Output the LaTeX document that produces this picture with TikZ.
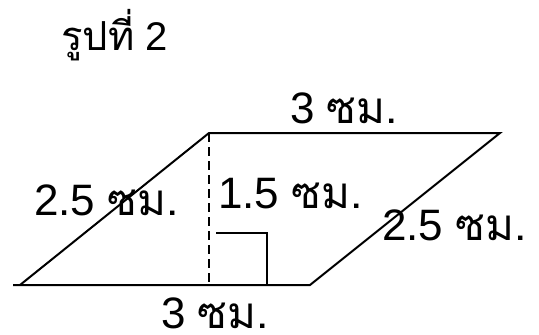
\documentclass[tikz,border=0pt]{standalone}
\usepackage{fontspec}
\setmainfont{Liberation Sans}
\newfontfamily\thaifont[Script=Thai]{Loma}
\begin{document}
\begin{tikzpicture}[x=1pt,y=-1pt,
  edge/.style={line width=2pt, line cap=butt},
  lbl/.style={anchor=base west, inner sep=0pt, font=\fontsize{44}{48}\selectfont},
  ttl/.style={anchor=base west, inner sep=0pt, font=\fontsize{40}{44}\selectfont}]
\useasboundingbox (0,0) rectangle (539,335);
\coordinate (A) at (20,285);
\coordinate (A0) at (13,285);
\coordinate (B) at (310,285);
\coordinate (C) at (500,133);
\coordinate (D) at (209,133);
\coordinate (E) at (209,285);
\coordinate (R1) at (216,233);
\coordinate (R2) at (267,233);
\coordinate (R3) at (267,285);
\draw[edge, line join=miter] (A0) -- (B) -- (C) -- (D) -- (A);
\draw[edge, dash pattern=on 9pt off 5pt] (D) -- (E);
\draw[edge] (R1) -- (R2) -- (R3);
\node[ttl] (title) at (61,50) {{\thaifont รูปที่} 2};
\node[lbl] (top) at (290,123) {3 {\thaifont ซม.}};
\node[lbl] (left) at (34,215) {2.5 {\thaifont ซม.}};
\node[lbl] (mid) at (218,208) {1.5 {\thaifont ซม.}};
\node[lbl] (right) at (382,240) {2.5 {\thaifont ซม.}};
\node[lbl] (bot) at (161,328) {3 {\thaifont ซม.}};
\end{tikzpicture}
\end{document}
